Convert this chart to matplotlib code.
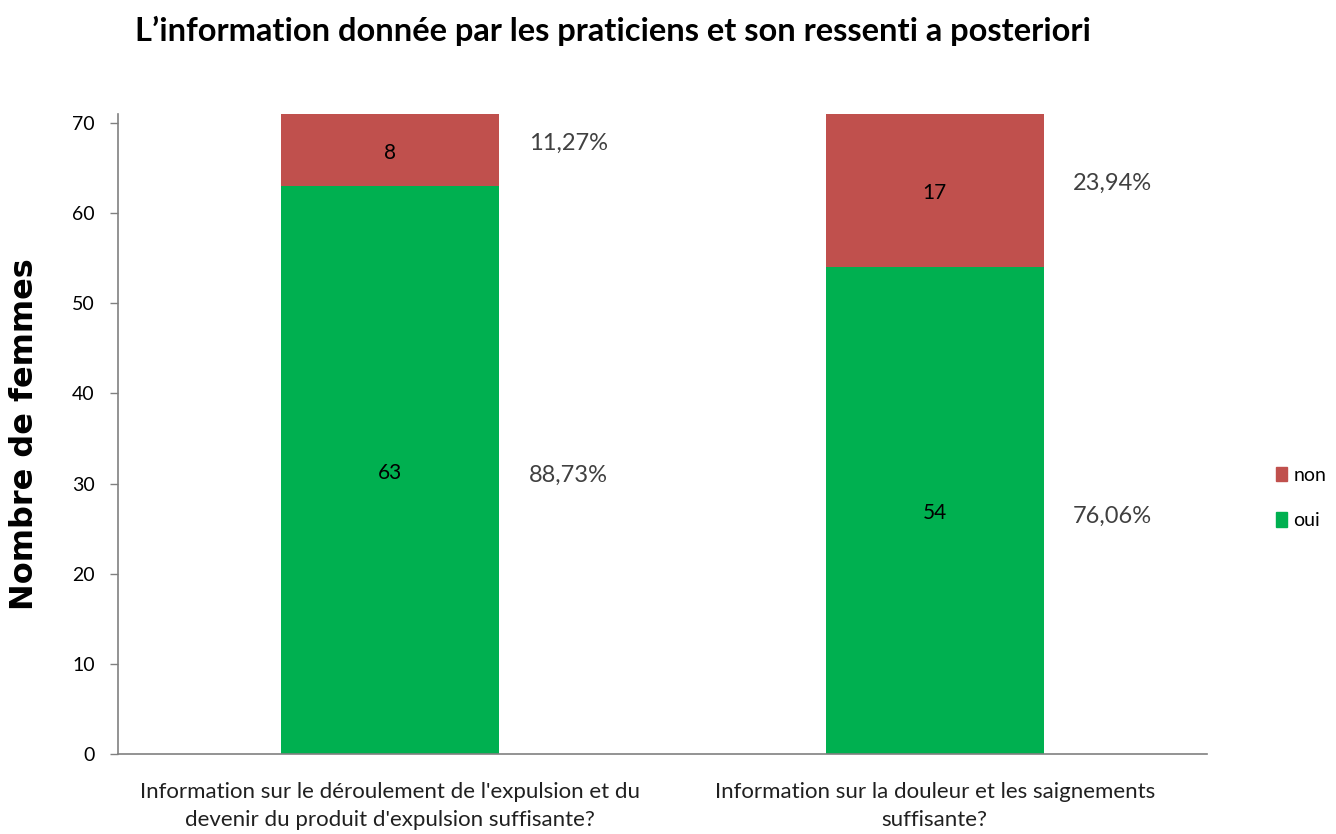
import matplotlib
matplotlib.use("Agg")
import matplotlib.pyplot as plt
from matplotlib.patches import Patch

categories = ["Information sur le déroulement de l'expulsion et du\ndevenir du produit d'expulsion suffisante?",
              "Information sur la douleur et les saignements\nsuffisante?"]
oui = [63, 54]
non = [8, 17]
pct_oui = ["88,73%", "76,06%"]
pct_non = ["11,27%", "23,94%"]
yticks = [0, 10, 20, 30, 40, 50, 60, 70]

RED = "#C0504D"
GREEN = "#00B050"
BODY = ["Lato", "DejaVu Sans"]

fig = plt.figure(figsize=(13.36, 8.34), dpi=100)
ax = fig.add_axes([0.0883, 0.0959, 0.8151, 0.7674])

x = list(range(len(categories)))
ax.bar(x, oui, width=0.4, color=GREEN)
ax.bar(x, non, width=0.4, bottom=oui, color=RED)

for i in x:
    ax.text(i, oui[i] / 2 - 0.3, str(oui[i]), ha="center", va="center", fontsize=15, family=BODY, color="black")
    ax.text(i, oui[i] + non[i] / 2 - 0.3, str(non[i]), ha="center", va="center", fontsize=15, family=BODY, color="black")
    ax.text(i + 0.327, oui[i] / 2 - 0.6, pct_oui[i], ha="center", va="center", fontsize=17, family=BODY, color="#404040")
    ax.text(i + 0.327, oui[i] + non[i] / 2 + 0.8, pct_non[i], ha="center", va="center", fontsize=17, family=BODY, color="#404040")

ax.set_xlim(-0.5, 1.5)
ax.set_ylim(0, 71)
ax.set_yticks(yticks)
ax.set_yticklabels([str(t) for t in yticks], fontsize=14, family=BODY)
ax.set_xticks(x)
ax.set_xticklabels(categories, fontsize=16, family=BODY, linespacing=1.5, color="#202020")
ax.tick_params(axis="x", length=0, pad=20)
ax.tick_params(axis="y", length=5.8, width=1, color="#808080", pad=11)
for s in ["top", "right"]:
    ax.spines[s].set_visible(False)
for s in ["left", "bottom"]:
    ax.spines[s].set_color("#808080")
    ax.spines[s].set_linewidth(1.2)

ax.set_ylabel("Nombre de femmes", fontsize=23, fontweight="bold", family=["DejaVu Sans"], va="center")
ax.yaxis.set_label_coords(-0.0859, 0.5)

fig.text(0.459, 1 - 41 / 834, "L\u2019information donnée par les praticiens et son ressenti a posteriori",
         ha="center", va="baseline", fontsize=23.5, fontweight="bold", family=BODY)

handles = [Patch(color=RED, label="non"), Patch(color=GREEN, label="oui")]
leg = fig.legend(handles=handles, loc="center left", bbox_to_anchor=(0.942, 0.403), frameon=False,
                 prop={"family": BODY, "size": 14}, handlelength=0.55, handleheight=0.8,
                 handletextpad=0.35, labelspacing=1.45)

fig.savefig("out.png", dpi=100)
